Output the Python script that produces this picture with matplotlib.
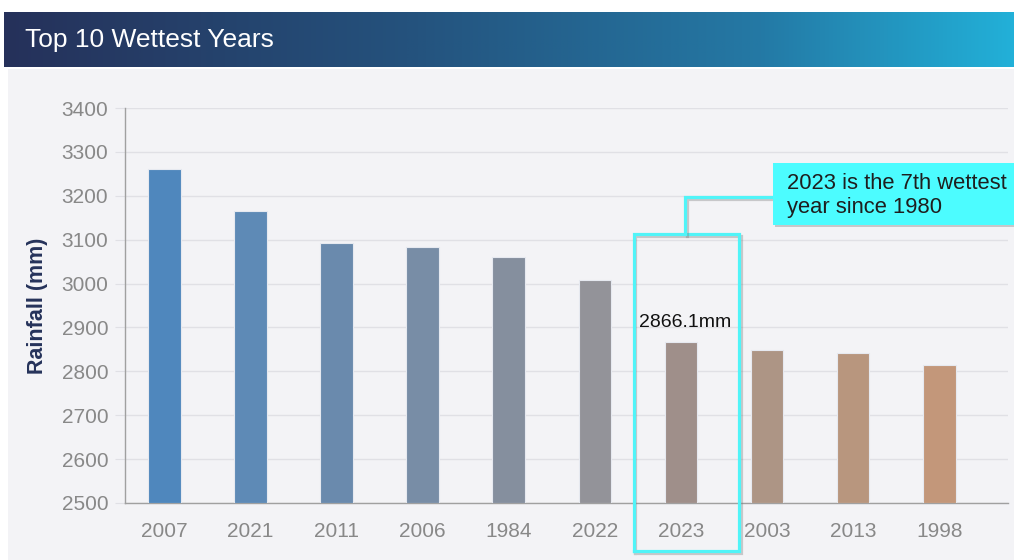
import matplotlib
matplotlib.use("Agg")
import matplotlib.pyplot as plt
import numpy as np
from matplotlib.colors import LinearSegmentedColormap
from matplotlib.patches import Rectangle
import matplotlib.patheffects as pe

# ---- data ----
years = ["2007", "2021", "2011", "2006", "1984", "2022", "2023", "2003", "2013", "1998"]
rainfall = [3262, 3166, 3093, 3084, 3061, 3008, 2866.1, 2849, 2842, 2814]
bar_colors = ["#4f87bd", "#5e8ab6", "#6a8aad", "#788da6", "#858f9e", "#939399",
              "#9f8f8a", "#ad9585", "#b8967e", "#c3977a"]
title = "Top 10 Wettest Years"
ylabel = "Rainfall (mm)"
highlight_year = "2023"
highlight_label = "2866.1mm"
callout_text = "2023 is the 7th wettest\nyear since 1980"
yticks = [2500, 2600, 2700, 2800, 2900, 3000, 3100, 3200, 3300, 3400]

plt.rcParams['font.family'] = ['Liberation Sans', 'DejaVu Sans']

W, H = 1014, 560
fig = plt.figure(figsize=(W / 100, H / 100), dpi=100, facecolor="white")

# light panel background
fig.patches.append(Rectangle((8 / W, 0), 1 - 8 / W, 1 - 69 / H, transform=fig.transFigure,
                             facecolor="#f3f3f6", edgecolor="none", zorder=-10))

# header banner with gradient
bax = fig.add_axes([4 / W, 1 - 67 / H, 1 - 4 / W, 55 / H])
cmap = LinearSegmentedColormap.from_list("hdr", [(0, "#26315a"), (0.4, "#24527d"),
                                                  (0.75, "#2479a5"), (1, "#22b0d8")])
bax.imshow(np.linspace(0, 1, 512)[None, :], aspect="auto", cmap=cmap, extent=[0, 1, 0, 1])
bax.set_axis_off()
bax.text(0.021, 0.5, title, color="white", fontsize=19, va="center", ha="left",
         transform=bax.transAxes)

# main axes
ax = fig.add_axes([125 / W, 1 - 503 / H, (1008 - 125) / W, (503 - 108) / H])
ax.set_facecolor("none")
x = np.arange(len(years))
bars = ax.bar(x, [v - 2500 for v in rainfall], bottom=2500, width=0.38,
              color=bar_colors, edgecolor="#e6e9f0", linewidth=0.8, zorder=3)
ax.set_ylim(2500, 3400)
ax.set_xlim(-0.46, 9.80)
ax.set_yticks(yticks)
ax.set_xticks(x)
ax.set_xticklabels(years)
ax.yaxis.grid(True, color="#e0e0e5", linewidth=1.0, zorder=0)
ax.tick_params(axis="y", length=7, color="#e0e0e5", labelcolor="#888888", labelsize=15, pad=5)
ax.tick_params(axis="x", length=0, labelcolor="#888888", labelsize=15, pad=14)
for s in ["top", "right"]:
    ax.spines[s].set_visible(False)
for s in ["left", "bottom"]:
    ax.spines[s].set_color("#a0a0a0")
    ax.spines[s].set_linewidth(1.0)
ax.set_ylabel(ylabel, fontsize=15.5, fontweight="bold", color="#25325a", labelpad=10)

# highlight
hi = years.index(highlight_year)
ax.text(hi + 0.05, rainfall[hi] + 25, highlight_label, ha="center", va="bottom", fontsize=14,
        color="#111111", zorder=5)
lshadow = [pe.SimpleLineShadow(offset=(1.2, -1.5), shadow_color="#777777", alpha=0.35), pe.Normal()]
rx0, rx1, ry0, ry1 = hi - 0.55, hi + 0.68, 2391, 3113
ax.plot([rx0, rx1, rx1, rx0, rx0], [ry0, ry0, ry1, ry1, ry0], color="#50f4f8", linewidth=2.3,
        clip_on=False, zorder=6, path_effects=lshadow, solid_joinstyle="miter")
ax.plot([hi + 0.05, hi + 0.05, 7.1], [ry1, 3198, 3198], color="#50f4f8", linewidth=2.3,
        clip_on=False, zorder=6, path_effects=lshadow, solid_joinstyle="miter")
# callout box (in figure pixels)
shadow = [pe.SimplePatchShadow(offset=(1.2, -1.5), shadow_rgbFace="#777777", alpha=0.35), pe.Normal()]
cb = Rectangle((773 / W, 1 - 225 / H), (W - 773) / W + 0.01, 62 / H, transform=fig.transFigure,
               facecolor="#4cfcff", edgecolor="none", zorder=7, path_effects=shadow)
fig.patches.append(cb)
fig.text(787 / W, 1 - 195.5 / H, callout_text, fontsize=15.8, color="#1e1e1e", va="center",
         ha="left", linespacing=1.2, zorder=8)

fig.savefig("out.png", dpi=100, facecolor="white")
